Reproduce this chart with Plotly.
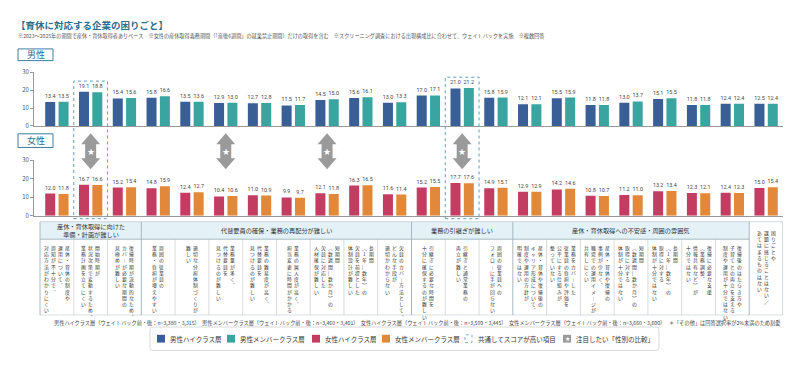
import plotly.graph_objects as go

W, H = 800, 371
FONT = "Noto Sans CJK JP"

# ---------------- data ----------------
series_names = ["男性ハイクラス層", "男性メンバークラス層", "女性ハイクラス層", "女性メンバークラス層"]
series_n = ["n=3,380・3,315", "n=3,460・3,401", "n=3,509・3,445", "n=3,660・3,600"]
colors = ["#3A5E96", "#3AA5A0", "#C33D63", "#E1883A"]

men_high = [13.4, 19.1, 15.4, 15.8, 13.5, 12.9, 12.7, 11.5, 14.5, 15.6, 13.0,
            17.0, 21.0, 15.8, 12.1, 15.5, 11.8, 13.0, 15.1, 11.8, 12.4, 12.5]
men_member = [13.5, 18.8, 15.6, 16.6, 13.6, 13.0, 12.8, 11.7, 15.0, 16.1, 13.3,
              17.1, 21.2, 15.9, 12.1, 15.9, 11.8, 13.7, 15.5, 11.8, 12.4, 12.4]
women_high = [12.0, 16.7, 15.2, 14.8, 12.4, 10.4, 11.0, 9.9, 12.1, 16.3, 11.6,
              15.2, 17.7, 14.9, 12.9, 14.2, 10.8, 11.2, 13.2, 12.3, 12.4, 15.0]
women_member = [11.8, 16.6, 15.4, 15.9, 12.7, 10.6, 10.9, 9.7, 11.8, 16.5, 11.4,
                15.5, 17.6, 15.1, 12.9, 14.6, 10.7, 11.0, 13.4, 12.1, 12.3, 15.4]

category_lines = [
    ["産休・育休の制度や", "運用について、", "周知が不十分で、", "対応方法がわかりにくい"],
    ["開始時期が", "状況次第で変動するため、", "業務計画を立てにくい"],
    ["復帰時期が流動的なため、", "カバーが必要な期間の", "見極めが難しい"],
    ["周囲の従業員の", "業務・負担が増えやすい"],
    ["適切な分担体制づくりが", "難しい"],
    ["業務量が多く、", "代替要員を", "見つけるのが難しい"],
    ["業務の難易度が高く、", "代替要員を", "見つけるのが難しい"],
    ["業務の属人度が高く、", "担当変更に時間がかかる"],
    ["短期間", "（数週間～数か月）の", "欠員に対応した", "人材確保が難しい"],
    ["長期間", "（1年～数年）の", "欠員を前提とした", "体制設計が難しい"],
    ["欠員のカバー方法として、", "どんな手段が", "適切かわからない"],
    ["引継ぎに必要な時間を", "十分に確保するのが難しい"],
    ["引継ぎと通常業務の", "両立が難しい"],
    ["周囲の従業員への", "フォローに手が回らない"],
    ["産休・育休や復帰後の", "キャリア形成について、", "制度や運用の方針が", "明確ではない"],
    ["業務をカバーした", "従業員の負担や評価を", "公平にする仕組みが", "整っていない"],
    ["産休・育休や復帰の", "事例が少なく、", "職場での運用イメージが", "共有しにくい"],
    ["短期間", "（数週間～数か月）の", "取得に対する", "体制が十分ではない"],
    ["長期間", "（1年～数年）の", "取得に対する", "体制が十分ではない"],
    ["復帰に必要な支援", "（業務調整、", "情報共有など）が", "十分ではない"],
    ["復帰後のはたらき方や", "子育てとの両立を支える", "制度や運用が十分ではない"],
    ["困りごとや", "課題に感じることはない／", "あてはまるものはない"],
]

group_labels = ["産休・育休取得に向けた<br>準備・計画が難しい",
                "代替要員の確保・業務の再配分が難しい",
                "業務の引継ぎが難しい",
                "産休・育休取得への不安感・周囲の雰囲気"]
group_spans = [(0, 2), (3, 10), (11, 13), (14, 20)]

highlight_cols = [1, 12]
star_cols = [1, 5, 8, 12]

title_text = "【育休に対応する企業の困りごと】"
note_text = ("※2023～2025年の期間で産休・育休取得者ありベース　"
             "※女性の産休取得義務期間（「産後6週間」の就業禁止期間）だけの取得を含む　"
             "※スクリーニング調査における出現構成比に合わせて、ウェイトバックを実施　※複数回答")
other_note = "＊「その他」は回答選択率が2%未満のため割愛"
legend_extra = ["共通してスコアが高い項目", "注目したい「性別の比較」"]

# ---------------- geometry helpers ----------------
NCAT = len(category_lines)
X0_PX, X1_PX, CAT0_PX = 34, 783, 40
CAT_W = (X1_PX - CAT0_PX) / NCAT
RANGE0 = -0.5 - (CAT0_PX - X0_PX) / CAT_W
RANGE1 = NCAT - 0.5


def fx(px):
    return px / W


def fy(py):
    return 1 - py / H


xs = list(range(NCAT))

fig = go.Figure()

LABEL_FONT = dict(size=5.4, color="#444", family="Roboto")
men = [men_high, men_member]
women = [women_high, women_member]
for k, vals in enumerate(men):
    fig.add_trace(go.Bar(x=xs, y=vals, name=series_names[k], marker=dict(color=colors[k], line=dict(width=0)),
                         text=[f"{v:.1f}" for v in vals], textposition="outside",
                         textfont=LABEL_FONT, cliponaxis=False,
                         constraintext="none", hoverinfo="skip", xaxis="x", yaxis="y", showlegend=False))
for k, vals in enumerate(women):
    fig.add_trace(go.Bar(x=xs, y=vals, name=series_names[k + 2], marker=dict(color=colors[k + 2], line=dict(width=0)),
                         text=[f"{v:.1f}" for v in vals], textposition="outside",
                         textfont=LABEL_FONT, cliponaxis=False,
                         constraintext="none", hoverinfo="skip", xaxis="x2", yaxis="y2", showlegend=False))

shapes = []
annotations = []

# ---------------- vertical table text ----------------
VMAP = {"、": "︑", "。": "︒", "（": "︵", "）": "︶", "ー": "︱", "～": "︴", "「": "﹁", "」": "﹂"}
LINE_SP = 7.0
for i, lines in enumerate(category_lines):
    n = len(lines)
    y_top = 229 if i == NCAT - 1 else 244
    for k, line in enumerate(lines):
        off = ((n - 1) / 2 - k) * LINE_SP
        annotations.append(dict(x=i + off / CAT_W, y=y_top, xref="x3", yref="y3",
                                text="<br>".join(VMAP.get(ch, ch) for ch in line),
                                showarrow=False, xanchor="center", yanchor="top", borderpad=0,
                                font=dict(size=4.8, color="#333", family=FONT)))

# table
TOP, HDR, BOT = 222, 240, 318
shapes.append(dict(type="rect", xref="x3", yref="y3", x0=-0.5, x1=NCAT - 1.5, y0=TOP, y1=HDR,
                   fillcolor="#E4F2F8", line=dict(width=0), layer="below"))
group_bounds = [e + 0.5 for (_, e) in group_spans]
for i in range(NCAT - 1):
    xb = i + 0.5
    if xb in group_bounds:
        continue
    shapes.append(dict(type="line", xref="x3", yref="y3", x0=xb, x1=xb, y0=HDR, y1=BOT,
                       line=dict(color="#C8CCCF", width=0.7)))
for xb in group_bounds:
    shapes.append(dict(type="line", xref="x3", yref="y3", x0=xb, x1=xb, y0=TOP, y1=BOT,
                       line=dict(color="#9FB1BC", width=0.9)))
shapes.append(dict(type="line", xref="x3", yref="y3", x0=-0.5, x1=NCAT - 1.5, y0=HDR, y1=HDR,
                   line=dict(color="#9FB1BC", width=0.9)))
shapes.append(dict(type="rect", xref="x3", yref="y3", x0=-0.5, x1=NCAT - 0.5, y0=TOP, y1=BOT,
                   line=dict(color="#9FB1BC", width=0.9)))
for (s, e), lab in zip(group_spans, group_labels):
    annotations.append(dict(x=(s + e) / 2, y=(TOP + HDR) / 2, xref="x3", yref="y3", text=lab,
                            showarrow=False, font=dict(size=6.2, color="#333", family=FONT),
                            xanchor="center", yanchor="middle", borderpad=0))

# highlight dotted boxes
box_tops = [78, 74]
for c, top in zip(highlight_cols, box_tops):
    shapes.append(dict(type="rect", xref="x", yref="paper", x0=c - 0.5, x1=c + 0.5,
                       y0=fy(219), y1=fy(top), line=dict(color="#5E9DB8", width=1, dash="dot")))

# double arrows with star
arrow_path = ("M 0,18 L 9.5,7 L 5.5,7 L 5.5,-7 L 9.5,-7 L 0,-18 "
              "L -9.5,-7 L -5.5,-7 L -5.5,7 L -9.5,7 Z")
for c in star_cols:
    shapes.append(dict(type="path", xref="x", yref="paper", xsizemode="pixel", ysizemode="pixel",
                       xanchor=c, yanchor=fy(150), path=arrow_path,
                       fillcolor="#9A9A9A", line=dict(width=0)))
    annotations.append(dict(x=c, y=fy(150.5), xref="x", yref="paper", text="★", showarrow=False,
                            font=dict(size=9, color="white", family="DejaVu Sans"),
                            xanchor="center", yanchor="middle"))

# title & notes
annotations.append(dict(x=fx(14), y=fy(20), xref="paper", yref="paper", text=f"<b>{title_text}</b>",
                        showarrow=False, font=dict(size=9.5, color="#2D6E8E", family=FONT),
                        xanchor="left", yanchor="middle"))
annotations.append(dict(x=fx(16), y=fy(32), xref="paper", yref="paper", text=note_text,
                        showarrow=False, font=dict(size=5.15, color="#555", family=FONT),
                        xanchor="left", yanchor="middle"))

# gender label boxes
for lab, (y0, y1) in [("男性", (45, 57)), ("女性", (132, 146))]:
    shapes.append(dict(type="rect", xref="paper", yref="paper", x0=fx(18), x1=fx(53), y0=fy(y1), y1=fy(y0),
                       line=dict(color="#3F7E9C", width=1), fillcolor="white"))
    annotations.append(dict(x=fx(35.5), y=fy((y0 + y1) / 2), xref="paper", yref="paper", text=lab,
                            showarrow=False, font=dict(size=9, color="#2D6E8E", family=FONT),
                            xanchor="center", yanchor="middle", borderpad=0))

# footnote
foot = "  ".join(f"{nm}（ウェイトバック前・後：{n}）" for nm, n in zip(series_names, series_n))
foot = foot + "　 " + other_note
annotations.append(dict(x=fx(52), y=fy(326), xref="paper", yref="paper", text=foot,
                        showarrow=False, font=dict(size=5.2, color="#444", family=FONT),
                        xanchor="left", yanchor="middle"))

# legend box
LX0, LX1, LY0, LY1, R = 150, 659, 330, 354, 3
box = (f"M {fx(LX0 + R)},{fy(LY0)} L {fx(LX1 - R)},{fy(LY0)} Q {fx(LX1)},{fy(LY0)} {fx(LX1)},{fy(LY0 + R)} "
       f"L {fx(LX1)},{fy(LY1 - R)} Q {fx(LX1)},{fy(LY1)} {fx(LX1 - R)},{fy(LY1)} "
       f"L {fx(LX0 + R)},{fy(LY1)} Q {fx(LX0)},{fy(LY1)} {fx(LX0)},{fy(LY1 - R)} "
       f"L {fx(LX0)},{fy(LY0 + R)} Q {fx(LX0)},{fy(LY0)} {fx(LX0 + R)},{fy(LY0)} Z")
shapes.append(dict(type="path", xref="paper", yref="paper", path=box,
                   line=dict(color="#CFCFCF", width=0.8), fillcolor="white"))
LYC = 342
item_x = [157, 227, 312, 382, 465, 563]
labels_all = series_names + legend_extra
for k, (px, lab) in enumerate(zip(item_x, labels_all)):
    if k < 4:
        shapes.append(dict(type="rect", xref="paper", yref="paper", x0=fx(px), x1=fx(px + 8),
                           y0=fy(LYC + 4), y1=fy(LYC - 4), fillcolor=colors[k], line=dict(width=0)))
    elif k == 4:
        shapes.append(dict(type="rect", xref="paper", yref="paper", x0=fx(px), x1=fx(px + 7),
                           y0=fy(LYC + 4), y1=fy(LYC - 4), fillcolor="white",
                           line=dict(color="#5E9DB8", width=0.8, dash="dot")))
    else:
        shapes.append(dict(type="rect", xref="paper", yref="paper", x0=fx(px), x1=fx(px + 8),
                           y0=fy(LYC + 4), y1=fy(LYC - 4), fillcolor="#9A9A9A", line=dict(width=0)))
        annotations.append(dict(x=fx(px + 4), y=fy(LYC), xref="paper", yref="paper", text="★",
                                showarrow=False, font=dict(size=6, color="white", family="DejaVu Sans"),
                                xanchor="center", yanchor="middle", borderpad=0))
    annotations.append(dict(x=fx(px + 11), y=fy(LYC), xref="paper", yref="paper", text=lab,
                            showarrow=False, font=dict(size=6.5, color="#333", family=FONT),
                            xanchor="left", yanchor="middle"))

xdom = [fx(X0_PX), fx(X1_PX)]
xcommon = dict(domain=xdom, range=[RANGE0, RANGE1], showgrid=False, zeroline=False,
               showticklabels=False, ticks="", fixedrange=True)
ycommon = dict(range=[0, 30], tickvals=[0, 10, 20, 30], ticksuffix="%", showgrid=False, zeroline=False,
               showline=True, linecolor="#9A9A9A", linewidth=0.8, ticks="outside", ticklen=3,
               tickcolor="#9A9A9A", tickfont=dict(size=6, color="#555", family=FONT), fixedrange=True)

fig.update_layout(
    width=W, height=H, margin=dict(l=0, r=0, t=0, b=0),
    paper_bgcolor="white", plot_bgcolor="white",
    font=dict(family=FONT),
    barmode="group", bargap=0.21, bargroupgap=0.25,
    showlegend=False,
    xaxis=dict(**xcommon, anchor="y", showline=True, linecolor="#9A9A9A", linewidth=0.8),
    xaxis2=dict(**xcommon, anchor="y2", showline=True, linecolor="#9A9A9A", linewidth=0.8),
    xaxis3=dict(**xcommon, anchor="y3", visible=False),
    yaxis=dict(**ycommon, domain=[fy(124), fy(69)], anchor="x"),
    yaxis2=dict(**ycommon, domain=[fy(216), fy(159)], anchor="x2"),
    yaxis3=dict(domain=[fy(BOT), fy(TOP)], range=[BOT, TOP], visible=False, anchor="x3", fixedrange=True),
    shapes=shapes, annotations=annotations,
)

fig.write_html("out.html")
